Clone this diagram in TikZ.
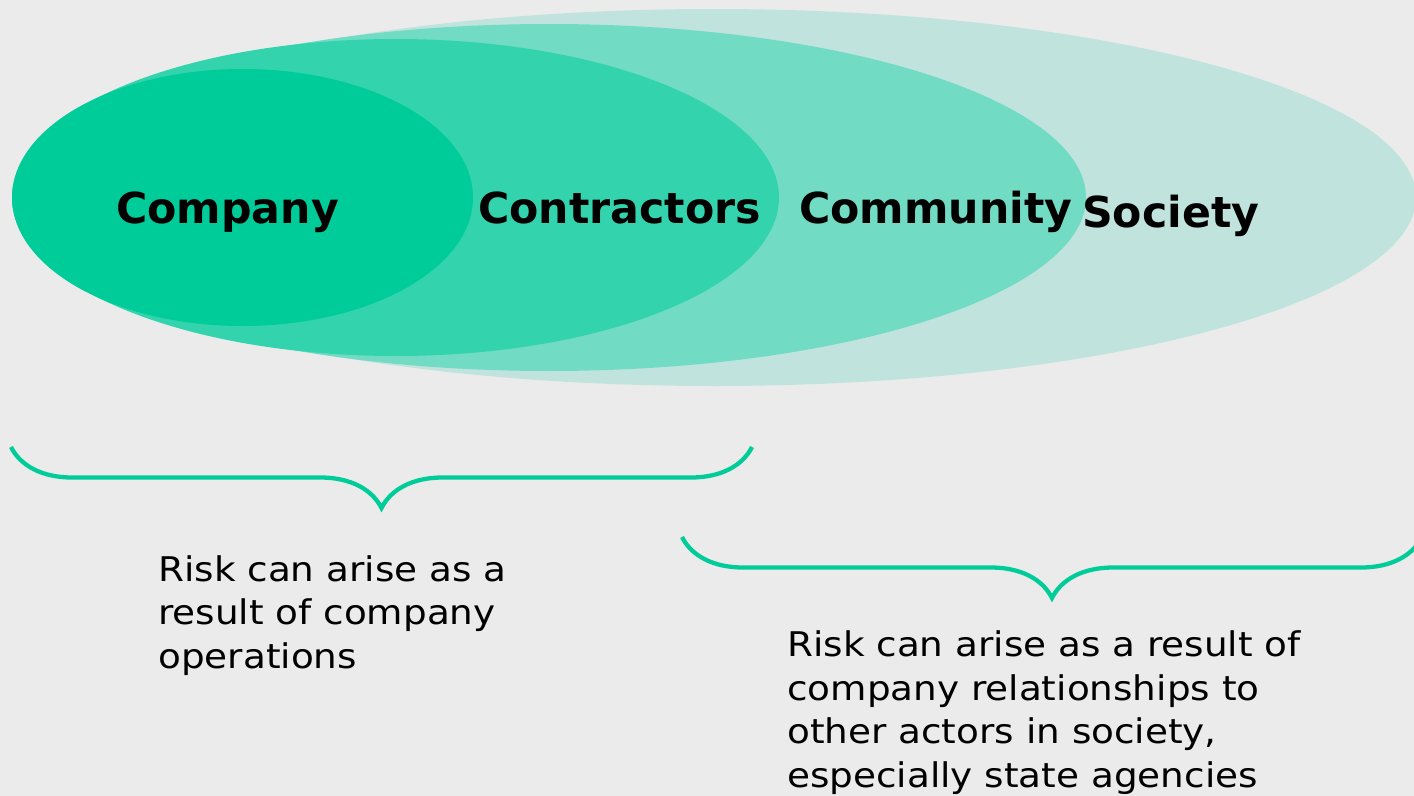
\documentclass[tikz,border=0pt]{standalone}
\usepackage{fontspec}
\setmainfont{DejaVu Sans}
\newfontfamily\widebody[FakeStretch=1.098]{DejaVu Sans}
\usetikzlibrary{decorations.pathreplacing}

\definecolor{bgGray}{HTML}{EBEBEB}
\definecolor{companyGreen}{HTML}{00CC99}
\definecolor{contractorGreen}{HTML}{33D4AD}
\definecolor{communityGreen}{HTML}{72DBC4}
\definecolor{societyGreen}{HTML}{C0E4DD}

\begin{document}
\begin{tikzpicture}[
    x=0.75pt, y=-0.75pt,
    circlelabel/.style={anchor=base west, inner sep=0pt, font=\fontsize{32}{38}\selectfont\bfseries},
    risktext/.style={anchor=base west, inner sep=0pt, align=left, font=\widebody\fontsize{25.5}{32.6}\selectfont},
    bracket/.style={draw=companyGreen, line width=3.2pt, decorate, decoration={brace, mirror, amplitude=45.75pt}}
]
    % Background and picture size
    \fill[bgGray] (0,0) rectangle (1414,796);
    \useasboundingbox (0,0) rectangle (1414,796);

    % Nested circles of influence
    \fill[societyGreen] (714,197.5) ellipse [x radius=702, y radius=188.5];
    \fill[communityGreen] (549,197.5) ellipse [x radius=537, y radius=173.5];
    \fill[contractorGreen] (395.5,197.5) ellipse [x radius=383.5, y radius=158.5];
    \fill[companyGreen] (242.5,197.5) ellipse [x radius=230.5, y radius=128.5];

    % Labels
    \node[circlelabel] (company) at (116,223) {Company};
    \node[circlelabel] (contractors) at (478,223) {Contractors};
    \node[circlelabel] (community) at (799,223) {Community};
    \node[circlelabel] (society) at (1082,227) {Society};

    % Braces
    \coordinate (opsLeft) at (11,447);
    \coordinate (opsRight) at (752,447);
    \coordinate (relLeft) at (682,537);
    \coordinate (relRight) at (1422,537);
    \draw[bracket] (opsLeft) -- (opsRight);
    \draw[bracket] (relLeft) -- (relRight);

    % Explanations (anchored at the last baseline)
    \node[risktext] (opsText) at (158,668) {Risk can arise as a\\result of company\\operations};
    \node[risktext] (relText) at (787,787) {Risk can arise as a result of\\company relationships to\\other actors in society,\\especially state agencies};
\end{tikzpicture}
\end{document}
